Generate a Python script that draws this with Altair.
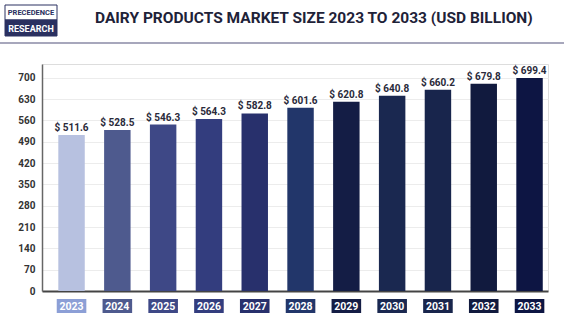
import altair as alt
import pandas as pd

years = ["2023", "2024", "2025", "2026", "2027", "2028", "2029", "2030", "2031", "2032", "2033"]
values = [511.6, 528.5, 546.3, 564.3, 582.8, 601.6, 620.8, 640.8, 660.2, 679.8, 699.4]
bar_colors = ["#b7c1e0", "#4e5a8e", "#3e4886", "#333d7e", "#28306c", "#22366a",
              "#141d45", "#1a2850", "#18254c", "#111a3e", "#0d1543"]
box_colors = ["#8c9fd6", "#4e5a8e", "#3e4886", "#333d7e", "#28306c", "#22366a",
              "#141d45", "#1a2850", "#18254c", "#111a3e", "#0d1543"]
y_ticks = [0, 70, 140, 210, 280, 350, 420, 490, 560, 630, 700]
title_text = "DAIRY PRODUCTS MARKET SIZE 2023 TO 2033 (USD BILLION)"

df = pd.DataFrame({
    "year": years,
    "value": values,
    "label": ["$ " + f"{v:.1f}" for v in values],
    "bar_color": bar_colors,
    "box_color": box_colors,
})

FONT = "Roboto"
L, T = 42, 64
W, H = 506, 227

xs = alt.X("year:N", sort=years,
           scale=alt.Scale(paddingInner=0.24, paddingOuter=0.144, align=0.92),
           axis=alt.Axis(labels=False, ticks=False, title=None, domain=True,
                         domainColor="#444444", domainWidth=2, grid=False))
ys = alt.Y("value:Q", scale=alt.Scale(domain=[0, 745], nice=False),
           axis=alt.Axis(values=y_ticks, tickCount=len(y_ticks), title=None, ticks=False,
                         domainColor="#666666", domainWidth=1.5, gridColor="#ececec",
                         gridWidth=1, labelFont=FONT, labelFontSize=10,
                         labelFontWeight="bold", labelColor="#333333", labelPadding=7,
                         labelOverlap=False))

base = alt.Chart(df)

bars = base.mark_bar(width=alt.RelativeBandSize(0.76)).encode(
    x=xs, y=ys, color=alt.Color("bar_color:N", scale=None)
)

vlabels = base.mark_text(dy=-7, font=FONT, fontSize=10, fontWeight="bold",
                         color="#2a2a3a").encode(
    x=xs, y=ys, text="label:N"
)

boxes = base.mark_bar(width=alt.RelativeBandSize(0.85)).encode(
    x=xs,
    y=alt.value(235), y2=alt.value(249),
    color=alt.Color("box_color:N", scale=None)
)

box_text = base.mark_text(font=FONT, fontSize=10.5, fontWeight="bold", color="white",
                          baseline="middle").encode(
    x=xs, y=alt.value(242.5), text="year:N"
)

one = alt.Data(values=[{"t": title_text}])

title = alt.Chart(one).mark_text(align="left", baseline="middle", font=FONT,
                                 fontSize=15.5, fontWeight="bold", color="#1e2238").encode(
    x=alt.value(95 - L), y=alt.value(17.5 - T), text="t:N"
)

header_line = alt.Chart(one).mark_rule(color="#8a8aa6", strokeWidth=1.5).encode(
    x=alt.value(0 - L), x2=alt.value(564 - L), y=alt.value(43 - T)
)

logo_top = alt.Chart(one).mark_rect(fill="white", stroke="#2a3060", strokeWidth=1).encode(
    x=alt.value(5 - L), x2=alt.value(57 - L), y=alt.value(5 - T), y2=alt.value(20 - T)
)
logo_bot = alt.Chart(one).mark_rect(fill="#2a3060", stroke="#2a3060", strokeWidth=1).encode(
    x=alt.value(5 - L), x2=alt.value(57 - L), y=alt.value(20 - T), y2=alt.value(36 - T)
)
logo_t1 = alt.Chart(one).mark_text(text="PRECEDENCE", font=FONT, fontSize=7.5, fontWeight="bold",
                                   color="#2a3060", baseline="middle").encode(
    x=alt.value(31 - L), y=alt.value(13 - T)
)
logo_t2 = alt.Chart(one).mark_text(text="RESEARCH", font=FONT, fontSize=9, fontWeight="bold",
                                   color="white", baseline="middle").encode(
    x=alt.value(31 - L), y=alt.value(28.5 - T)
)

chart = alt.layer(
    bars, vlabels, boxes, box_text, title, header_line, logo_top, logo_bot, logo_t1, logo_t2
).properties(
    width=W, height=H,
    autosize=alt.AutoSizeParams(type="none"),
    padding={"left": L, "top": T, "right": 564 - L - W, "bottom": 322 - T - H},
).configure_view(stroke=None).configure(background="white")

chart.save("out.html", embed_options={"renderer": "svg", "actions": False})
